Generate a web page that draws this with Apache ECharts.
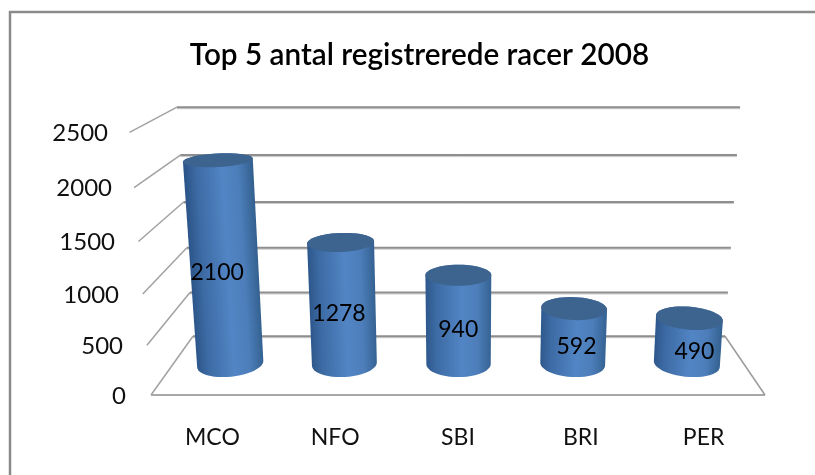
<!DOCTYPE html>
<html>
<head>
<meta charset="utf-8">
<style>html,body{margin:0;padding:0;background:#fff}#c{width:815px;height:475px}</style>
<script src="https://cdn.jsdelivr.net/npm/echarts@6/dist/echarts.min.js"></script>
</head>
<body>
<div id="c"></div>
<script>
const titleText = 'Top 5 antal registrerede racer 2008';
const categories = ['MCO', 'NFO', 'SBI', 'BRI', 'PER'];
const values = [2100, 1278, 940, 592, 490];
const ticks = [0, 500, 1000, 1500, 2000, 2500];
const FONT = 'Lato, "Open Sans", sans-serif';

const GRID = { left: 151, width: 614, bottom: 80, top: 132 };
const FLOOR = 475 - GRID.bottom;
const H = FLOOR - GRID.top;

// perspective view of the box: u across (0..1), v up (0..1), d into the page (0..1)
function project(u, v, d) {
  const w = 1 - 0.0636 * v + 0.154 * d;
  return [
    (GRID.width * u - 29.7 * v + 71.7 * d + GRID.left) / w,
    (-271.1 * v - 7 * d + FLOOR) / w
  ];
}
const frontV = t => t / ticks[ticks.length - 1];
const rich = {};
ticks.forEach(t => {
  const p = project(0, frontV(t), 0);
  const linearY = FLOOR - H * frontV(t);
  rich['t' + t] = {
    fontFamily: FONT, fontSize: 24, color: '#111',
    padding: [Math.max(0, Math.round((p[1] + 1 - linearY) * 2)), Math.round((GRID.left - p[0]) * 0.85), 0, 0]
  };
});

function hull(pts) {
  const s = pts.slice().sort((a, b) => a[0] - b[0] || a[1] - b[1]);
  const cross = (o, a, b) => (a[0] - o[0]) * (b[1] - o[1]) - (a[1] - o[1]) * (b[0] - o[0]);
  const lo = [], up = [];
  for (const p of s) { while (lo.length > 1 && cross(lo[lo.length - 2], lo[lo.length - 1], p) <= 0) lo.pop(); lo.push(p); }
  for (const p of s.slice().reverse()) { while (up.length > 1 && cross(up[up.length - 2], up[up.length - 1], p) <= 0) up.pop(); up.push(p); }
  return lo.slice(0, -1).concat(up.slice(0, -1));
}

function renderWall(params, api) {
  const cs = params.coordSys;
  const pt = api.coord([0, api.value(1)]);
  const v = (cs.y + cs.height - pt[1]) / cs.height;
  const line = (pts, stroke, lineWidth) => ({
    type: 'polyline', shape: { points: pts },
    style: { stroke, lineWidth, fill: null }
  });
  const fl = project(0, v, 0), bl = project(0, v, 1), br = project(1, v, 1);
  const kids = [
    line([[bl[0], bl[1] + 1.5], [br[0], br[1] + 1.5]], '#c8c8c8', 1),
    line([bl, br], '#8e8e8e', 2),
    line([fl, bl], '#a2a2a2', 1.5)
  ];
  if (api.value(1) === 0) {
    const fr = project(1, 0, 0);
    kids.push(line([fl, [fr[0], fr[1]]], '#a8a8a8', 2));
    kids.push(line([br, fr], '#9a9a9a', 1.5));
  }
  return { type: 'group', children: kids };
}

function renderCyl(params, api) {
  const cs = params.coordSys;
  const base = api.coord([api.value(0), 0]);
  const top = api.coord([api.value(0), api.value(1)]);
  const u = (base[0] - cs.x) / cs.width;
  const vt = (cs.y + cs.height - top[1]) / cs.height;
  const ru = 0.0565, rd = 0.225, dc = 0.5, n = 48;
  const ring = v => {
    const a = [];
    for (let i = 0; i < n; i++) {
      const t = i / n * Math.PI * 2;
      a.push(project(u + ru * Math.cos(t), v, dc + rd * Math.sin(t)));
    }
    return a;
  };
  const bot = ring(0), tp = ring(vt);
  const cb = project(u, 0, dc), ct = project(u, vt, dc);
  const ax = [cb[0] - ct[0], cb[1] - ct[1]], len = Math.hypot(ax[0], ax[1]);
  const nx = ax[1] / len, ny = -ax[0] / len;
  const R = 34, mx = (cb[0] + ct[0]) / 2, my = (cb[1] + ct[1]) / 2;
  const fill = {
    type: 'linear', global: true,
    x: mx - nx * R, y: my - ny * R, x2: mx + nx * R, y2: my + ny * R,
    colorStops: [
      { offset: 0, color: '#2c568a' }, { offset: 0.18, color: '#3d6ba4' },
      { offset: 0.55, color: '#5285c5' }, { offset: 0.78, color: '#4d7eba' },
      { offset: 1, color: '#33608f' }
    ]
  };
  const lab = project(u, vt / 2, 0.3);
  return {
    type: 'group',
    children: [
      { type: 'polygon', shape: { points: hull(bot.concat(tp)) }, style: { fill } },
      { type: 'polygon', shape: { points: tp }, style: { fill: '#3c648f' } },
      { type: 'text', style: {
          text: String(api.value(1)), x: lab[0], y: lab[1] - 1,
          align: 'center', verticalAlign: 'middle',
          fontFamily: FONT, fontSize: 23, fill: '#000'
      } }
    ]
  };
}

const chart = echarts.init(document.getElementById('c'), null, { renderer: 'canvas' });
chart.setOption({
  animation: false,
  backgroundColor: '#fff',
  title: {
    text: titleText, left: 414.5, top: 50, textAlign: 'center', textVerticalAlign: 'middle',
    textStyle: { fontFamily: FONT, fontSize: 29.7, fontWeight: 600, color: '#000' }
  },
  grid: { left: GRID.left, width: GRID.width, top: GRID.top, bottom: GRID.bottom },
  xAxis: {
    type: 'category', data: categories,
    axisLine: { show: false }, axisTick: { show: false }, splitLine: { show: false },
    axisLabel: { margin: 31, fontFamily: FONT, fontSize: 23, color: '#111' }
  },
  yAxis: {
    type: 'value', min: 0, max: 2500, interval: 500,
    axisLine: { show: false }, axisTick: { show: false }, splitLine: { show: false },
    axisLabel: { margin: 25, rich, formatter: v => '{t' + v + '|' + v + '}' }
  },
  graphic: [
    { type: 'polyline', silent: true, shape: { points: [[10, 475], [10, 12], [815, 12]] },
      style: { stroke: '#8a8a8a', lineWidth: 2.5, fill: null } }
  ],
  series: [
    { type: 'custom', clip: false, z: 1, renderItem: renderWall,
      data: ticks.map(t => [0, t]), encode: { x: 0, y: 1 } },
    { type: 'custom', clip: false, z: 2, renderItem: renderCyl,
      data: values.map((v, i) => [i, v]), encode: { x: 0, y: 1 } }
  ]
});
</script>
</body>
</html>
